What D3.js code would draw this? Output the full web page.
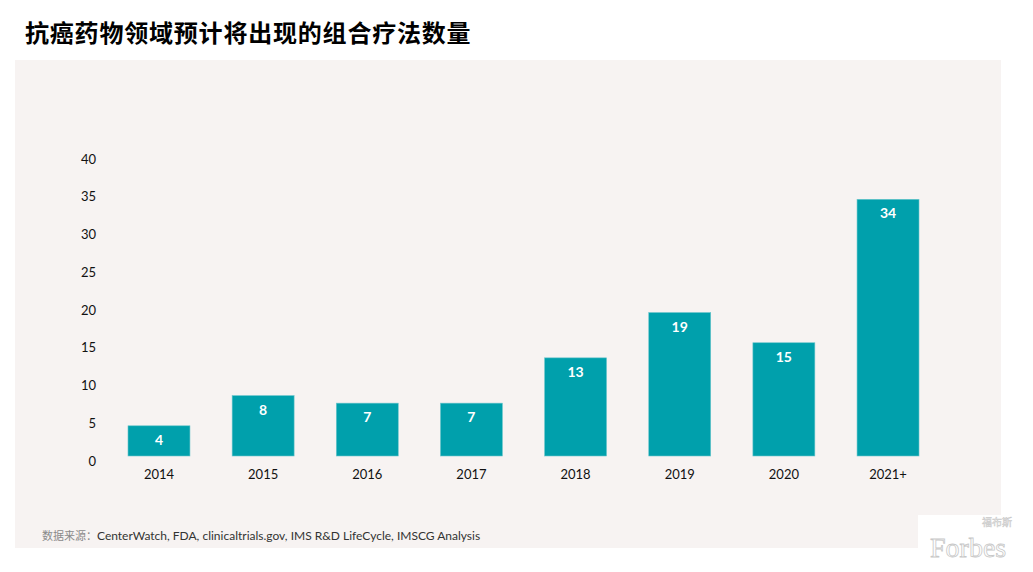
<!DOCTYPE html>
<html><head><meta charset="utf-8">
<script src="https://cdn.jsdelivr.net/npm/d3@7"></script>
<style>body{margin:0;background:#fff;}svg{display:block;}</style>
</head><body>
<script>
const categories = ["2014","2015","2016","2017","2018","2019","2020","2021+"];
const values = [4, 8, 7, 7, 13, 19, 15, 34];
const yTicks = [0,5,10,15,20,25,30,35,40];
const title = "抗癌药物领域预计将出现的组合疗法数量";
const sourcePrefix = "数据来源：";
const sourceText = "CenterWatch, FDA, clinicaltrials.gov, IMS R&D LifeCycle, IMSCG Analysis";

const W = 1033, H = 572;
const svg = d3.select("body").append("svg").attr("width", W).attr("height", H);
svg.append("rect").attr("width", W).attr("height", H).attr("fill", "#fff");
svg.append("rect").attr("x", 15).attr("y", 60).attr("width", 986).attr("height", 488).attr("fill", "#f7f3f2");

svg.append("text").attr("x", 25).attr("y", 42)
  .attr("font-family", "'Noto Sans CJK SC', sans-serif").attr("font-weight", "bold")
  .attr("font-size", 24).attr("letter-spacing", 0.8).attr("fill", "#000").text(title);

const x = d3.scaleBand().domain(categories).range([106.9, 940.1]).paddingInner(0.405).paddingOuter(0.2025);
const y = d3.scaleLinear().domain([0, 40]).range([456, 154]);

const yAxis = svg.append("g").attr("transform", "translate(96,5)")
  .call(d3.axisLeft(y).tickValues(yTicks).tickSize(0).tickPadding(0));
yAxis.select(".domain").remove();
yAxis.selectAll("text").attr("font-family", "Lato, 'Open Sans', sans-serif").attr("font-size", 13).attr("fill", "#111");

const xAxis = svg.append("g").attr("transform", "translate(0,470)")
  .call(d3.axisBottom(x).tickSize(0).tickPadding(0));
xAxis.select(".domain").remove();
xAxis.selectAll("text").attr("font-family", "Lato, 'Open Sans', sans-serif").attr("font-size", 13).attr("fill", "#111");

svg.selectAll("rect.bar").data(values).join("rect").attr("class", "bar")
  .attr("x", (d, i) => x(categories[i])).attr("width", x.bandwidth())
  .attr("y", d => y(d)).attr("height", d => y(0) - y(d))
  .attr("fill", "#00a0ac").attr("stroke", "#6cc6cc").attr("stroke-width", 0.6);

svg.selectAll("text.val").data(values).join("text").attr("class", "val")
  .attr("x", (d, i) => x(categories[i]) + x.bandwidth() / 2)
  .attr("y", d => y(d) + 19)
  .attr("text-anchor", "middle").attr("font-family", "Lato, 'Open Sans', sans-serif")
  .attr("font-weight", "bold").attr("font-size", 14).attr("fill", "#fff")
  .text(d => d);

const src = svg.append("text").attr("x", 42).attr("y", 540).attr("font-size", 12);
src.append("tspan").attr("font-family", "'Noto Sans CJK SC', sans-serif").attr("font-size", 11).attr("fill", "#8a8a8a").text(sourcePrefix);
src.append("tspan").attr("font-family", "Lato, 'Open Sans', sans-serif").attr("fill", "#333").text(sourceText);

// watermark
svg.append("rect").attr("x", 918).attr("y", 515).attr("width", 83).attr("height", 33).attr("fill", "#fff");
svg.append("text").attr("x", 930).attr("y", 557).attr("font-family", "'Liberation Serif', serif")
  .attr("font-size", 28).attr("fill", "#fff").attr("stroke", "#c8c8c8").attr("stroke-width", 0.8).text("Forbes");
svg.append("text").attr("x", 982).attr("y", 526).attr("font-family", "'Noto Sans CJK SC', sans-serif")
  .attr("font-size", 10).attr("fill", "#fff").attr("stroke", "#c8c8c8").attr("stroke-width", 0.5).text("福布斯");
</script>
</body></html>
